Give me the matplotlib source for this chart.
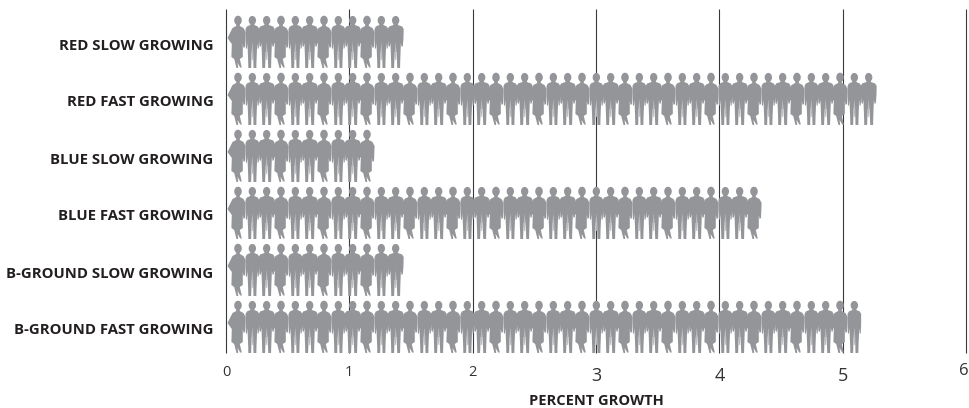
import matplotlib
matplotlib.use("Agg")
import matplotlib.pyplot as plt
import numpy as np
from matplotlib.patches import Polygon
from matplotlib.transforms import ScaledTranslation

categories = ["RED SLOW GROWING", "RED FAST GROWING", "BLUE SLOW GROWING",
              "BLUE FAST GROWING", "B-GROUND SLOW GROWING", "B-GROUND FAST GROWING"]
growth = [1.4, 5.2, 1.2, 4.3, 1.4, 5.1]
tick_values = [0, 1, 2, 3, 4, 5, 6]
xlabel = "PERCENT GROWTH"

GREY = "#939598"
FADE = "#bcbdc0"
INK = "#231f20"
W, H = 969, 408
L, R, T, B = 226, 966, 9, 353
ROW_PX = 57.0
ROW0_PX = 44.0
UNIT_PX = 43.0 / 3
PX_PER_VALUE = (R - L) / 6.0
FIRST_PX = 12.0

# Pictogram templates: local pixels, x from head centre, y from head top (0) to feet (52)
MAN_WIDE = [(-2.2, 7), (-2.2, 9), (-6.5, 10.5), (-8, 13), (-7.8, 22), (-7.2, 30), (-6, 31), (-5.2, 27), (-5, 33),
            (-4.6, 44), (-4.4, 52), (-1.6, 52), (-0.9, 36), (0.9, 36), (1.6, 52), (4.4, 52),
            (4.6, 44), (5, 33), (5.2, 27), (6, 31), (7.2, 30), (7.8, 22), (8, 13), (6.5, 10.5), (2.2, 9), (2.2, 7)]
MAN_SLIM = [(-2, 7), (-2, 9), (-5.5, 10.5), (-6.8, 13), (-6.8, 24), (-6.4, 32), (-5.4, 33), (-4.8, 27), (-4.6, 34),
            (-4.2, 44), (-4, 52), (-1.2, 52), (-0.7, 36), (0.7, 36), (1.2, 52), (4, 52),
            (4.2, 44), (4.6, 34), (4.8, 27), (5.4, 33), (6.4, 32), (6.8, 24), (6.8, 13), (5.5, 10.5), (2, 9), (2, 7)]
WOMAN = [(-1.8, 7), (-1.8, 10), (-5.5, 12), (-7.5, 16), (-10.5, 22), (-6.2, 28), (-6.6, 41), (-3.8, 43),
         (-2.8, 47), (-1.5, 52), (0.2, 52), (-0.4, 47), (2.2, 51.5), (3.8, 51.5), (1.8, 43), (4.8, 41), (4.8, 28),
         (5.6, 32), (7, 31), (7.6, 16), (5.5, 12), (1.8, 10), (1.8, 7)]
TEMPLATES = [WOMAN, MAN_SLIM, MAN_WIDE]
HEAD_R = [(3.8, 4.7), (3.7, 4.5), (3.7, 4.5)]
LEG_FADE = [(-0.9, 36), (0, 26), (0.9, 36), (0.45, 44), (-0.45, 44)]
TH = np.linspace(0, 2 * np.pi, 24, endpoint=False)


def local_to_data(pts, cx, row):
    pts = np.asarray(pts, float)
    return np.c_[(cx + pts[:, 0]) / PX_PER_VALUE, row + (pts[:, 1] - 28) / ROW_PX]


plt.rcParams["font.family"] = ["Open Sans", "DejaVu Sans"]
fig = plt.figure(figsize=(W / 100, H / 100), dpi=100)
ax = fig.add_axes([L / W, 1 - B / H, (R - L) / W, (B - T) / H])
ax.set_xlim(0, 6)
ax.set_ylim((B - ROW0_PX) / ROW_PX, (T - ROW0_PX) / ROW_PX)
for s in ax.spines.values():
    s.set_visible(False)

unit = UNIT_PX / PX_PER_VALUE
for row, v in enumerate(growth):
    for i in range(int(round(v / unit))):
        kind = i % 3
        cx = FIRST_PX + UNIT_PX * i
        rx, ry = HEAD_R[kind]
        head = np.c_[rx * np.cos(TH), 4.4 + ry * np.sin(TH)]
        ax.add_patch(Polygon(local_to_data(TEMPLATES[kind], cx, row), fc=GREY, ec="none", lw=0, zorder=3))
        ax.add_patch(Polygon(local_to_data(head, cx, row), fc=GREY, ec="none", lw=0, zorder=3))
        if kind:
            ax.add_patch(Polygon(local_to_data(LEG_FADE, cx, row), fc=FADE, ec="none", lw=0, zorder=4))

ax.set_yticks(range(len(categories)), categories, fontsize=10.7, fontweight="bold", color=INK)
ax.tick_params(axis="y", length=0, pad=9)
ax.set_xticks(tick_values, [str(t) for t in tick_values])
ax.tick_params(axis="x", length=0)
ax.vlines(tick_values, 0, 1, transform=ax.get_xaxis_transform(), color="#3a3a3c", lw=0.8, zorder=1, clip_on=False)
sizes = {0: 10.5, 1: 10.5, 2: 10.5, 3: 13, 4: 13, 5: 13, 6: 12}
pads = {0: 9, 1: 9, 2: 9, 3: 10, 4: 10, 5: 10, 6: 7}
for tick, val in zip(ax.xaxis.get_major_ticks(), tick_values):
    tick.label1.set_fontsize(sizes[val])
    tick.label1.set_color("#333333")
    tick.set_pad(pads[val])
    if val == 6:
        tick.label1.set_ha("right")
        tick.label1.set_transform(tick.label1.get_transform() + ScaledTranslation(2.5 / 100, 0, fig.dpi_scale_trans))
ax.set_xlabel(xlabel, fontsize=10.5, fontweight="bold", color=INK, labelpad=0)
ax.xaxis.set_label_coords(0.5, -0.118)
fig.savefig("out.png", dpi=100, facecolor="white")
